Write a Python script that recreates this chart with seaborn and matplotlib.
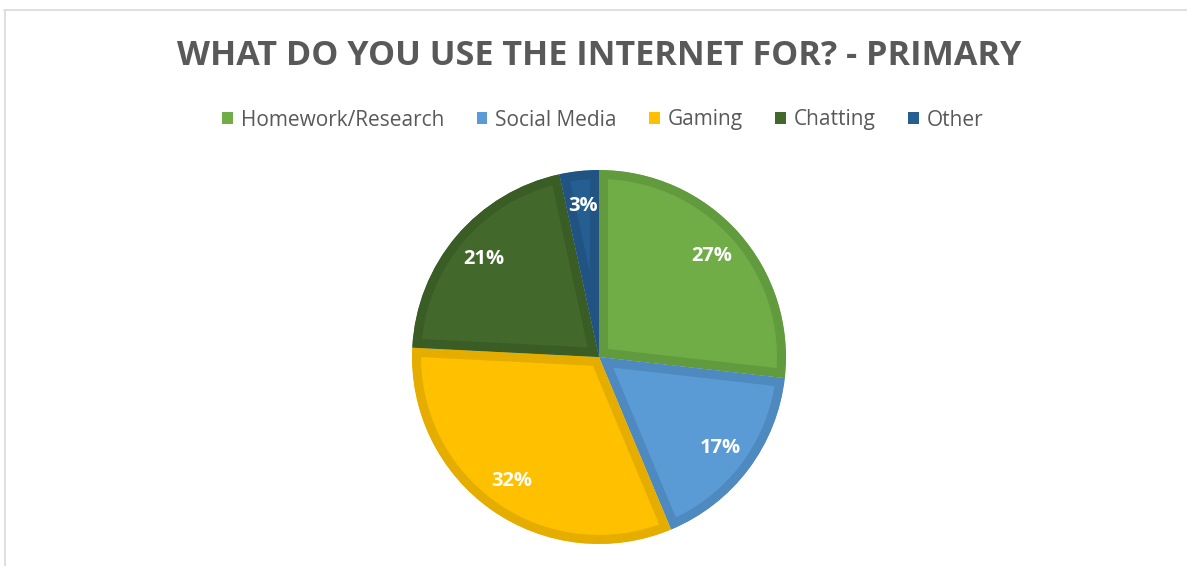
import matplotlib
matplotlib.use("Agg")
import matplotlib.pyplot as plt
import seaborn as sns
from matplotlib.patches import Patch
from matplotlib.lines import Line2D

categories = ["Homework/Research", "Social Media", "Gaming", "Chatting", "Other"]
values = [26.8, 16.9, 32.1, 20.8, 3.4]
colors = ["#70AD47", "#5B9BD5", "#FFC000", "#43682B", "#255E91"]
edge_colors = ["#629B3D", "#4E89BF", "#E5AD00", "#3A5C25", "#215482"]
title = "WHAT DO YOU USE THE INTERNET FOR? - PRIMARY"

sns.set_theme(style="white")
plt.rcParams["font.family"] = ["Open Sans", "DejaVu Sans"]

W, H = 1187, 566
fig = plt.figure(figsize=(W / 100, H / 100), dpi=100)
fig.patch.set_facecolor("white")

cx, cy, r = 599, 357, 187
ax = fig.add_axes([(cx - r) / W, (H - cy - r) / H, 2 * r / W, 2 * r / H])

wedges, texts, autotexts = ax.pie(
    values, colors=colors, startangle=90, counterclock=False,
    autopct="%.0f%%", pctdistance=0.81, radius=1,
    wedgeprops=dict(linewidth=0),
    textprops=dict(color="white", fontsize=14.5, fontweight="bold"),
)
for w, ec in zip(wedges, edge_colors):
    w.set_edgecolor(ec)
    w.set_linewidth(13)
    w.set_clip_on(True)
    w.set_clip_path(w)
ax.set_xlim(-1, 1)
ax.set_ylim(-1, 1)
ax.set_aspect("equal")
ax.axis("off")

fig.text(cx / W, 1 - 56 / H, title, ha="center", va="center",
         fontsize=24.6, fontweight="bold", color="#595959")

handles = [Patch(facecolor=c, edgecolor="none") for c in colors]
fig.legend(handles, categories, loc="center", bbox_to_anchor=(603 / W, 1 - 120 / H),
           ncol=5, frameon=False, fontsize=15, labelcolor="#595959",
           handlelength=0.5, handleheight=0.5, handletextpad=0.4, columnspacing=1.55)

lc = "#D9D9D9"
fig.add_artist(Line2D([4 / W, 1], [1 - 9.5 / H, 1 - 9.5 / H], transform=fig.transFigure, color=lc, lw=1.2))
fig.add_artist(Line2D([4.5 / W, 4.5 / W], [0, 1 - 9.5 / H], transform=fig.transFigure, color=lc, lw=1.2))

fig.savefig("out.png", dpi=100, facecolor="white")
